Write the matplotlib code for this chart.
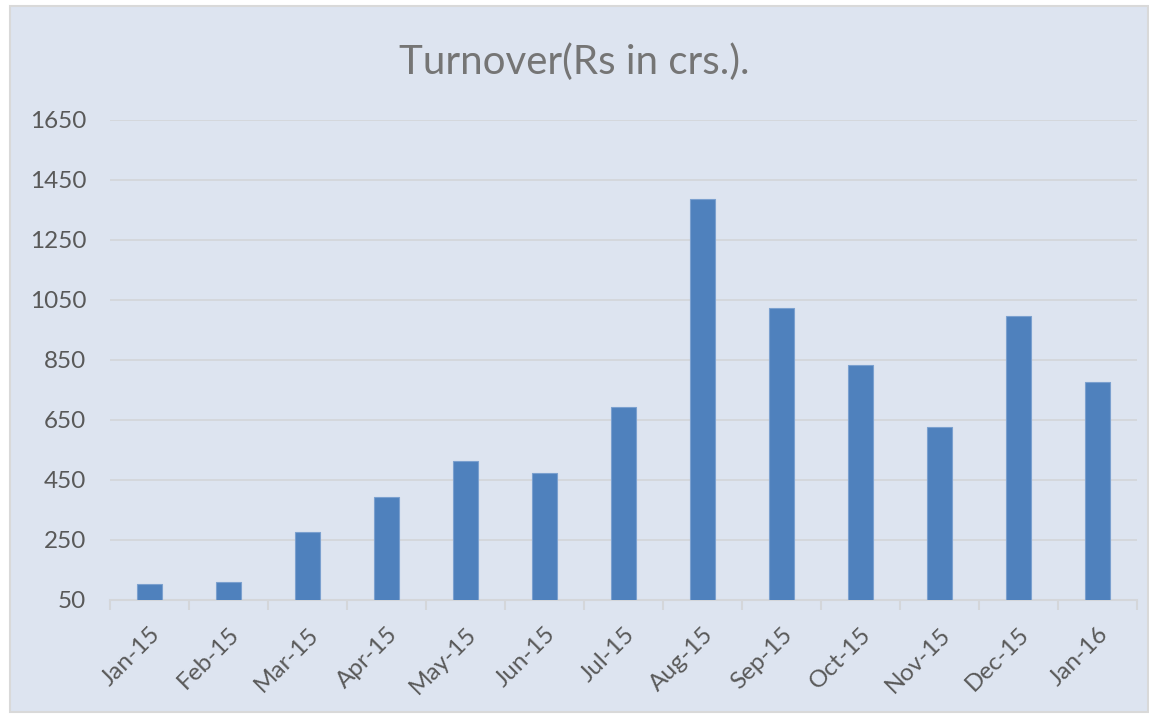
import matplotlib.pyplot as plt
import numpy as np
from matplotlib.patches import Rectangle

plt.rcParams['font.family'] = ['Lato', 'DejaVu Sans']

months = ['Jan-15', 'Feb-15', 'Mar-15', 'Apr-15', 'May-15', 'Jun-15', 'Jul-15',
          'Aug-15', 'Sep-15', 'Oct-15', 'Nov-15', 'Dec-15', 'Jan-16']
turnover = [102, 109, 277, 394, 512, 472, 694, 1387, 1024, 834, 626, 997, 777]
yticks = [50, 250, 450, 650, 850, 1050, 1250, 1450, 1650]

bg = '#DDE4F0'
grid_c = '#D4D6DA'
text_c = '#595959'

fig = plt.figure(figsize=(11.49, 7.16), dpi=100, facecolor='white')
# chart area with border, drawn behind the axes
border = Rectangle((10/1149, 4/716), 1138/1149, 706/716, transform=fig.transFigure,
                   facecolor=bg, edgecolor='#D9D9D9', linewidth=1.5, zorder=-10)
fig.add_artist(border)

ax = fig.add_axes([110/1149, 1 - 600/716, 1027/1149, 480/716])
ax.patch.set_alpha(0)

x = np.arange(len(months))
ax.bar(x, turnover, width=0.32, bottom=0, color='#4F81BD', edgecolor='#7BA0CF', linewidth=0.8, zorder=3)

ax.set_ylim(50, 1650)
ax.set_xlim(-0.5, len(months) - 0.5)
ax.set_yticks(yticks)
ax.set_yticklabels([str(v) for v in yticks], fontsize=17.5, color=text_c)
ax.tick_params(axis='y', length=0, pad=17)
ax.yaxis.grid(True, color=grid_c, linewidth=1.3, zorder=0)
ax.set_axisbelow(True)

# category labels at centers, tick marks at boundaries
ax.set_xticks(x)
ax.set_xticklabels(months, rotation=45, ha='right', rotation_mode='anchor', fontsize=17.5, color=text_c)
ax.tick_params(axis='x', which='major', length=0, pad=17)
ax.set_xticks(np.arange(-0.5, len(months)), minor=True)
ax.tick_params(axis='x', which='minor', length=7, width=1.5, color=grid_c)

for s in ['top', 'right', 'left']:
    ax.spines[s].set_visible(False)
ax.spines['bottom'].set_color(grid_c)
ax.spines['bottom'].set_linewidth(1.5)

fig.text(0.5, 1 - 62/716, 'Turnover(Rs in crs.).', ha='center', va='center', fontsize=29, color='#757575')

fig.savefig('out.png', dpi=100, facecolor='white')
